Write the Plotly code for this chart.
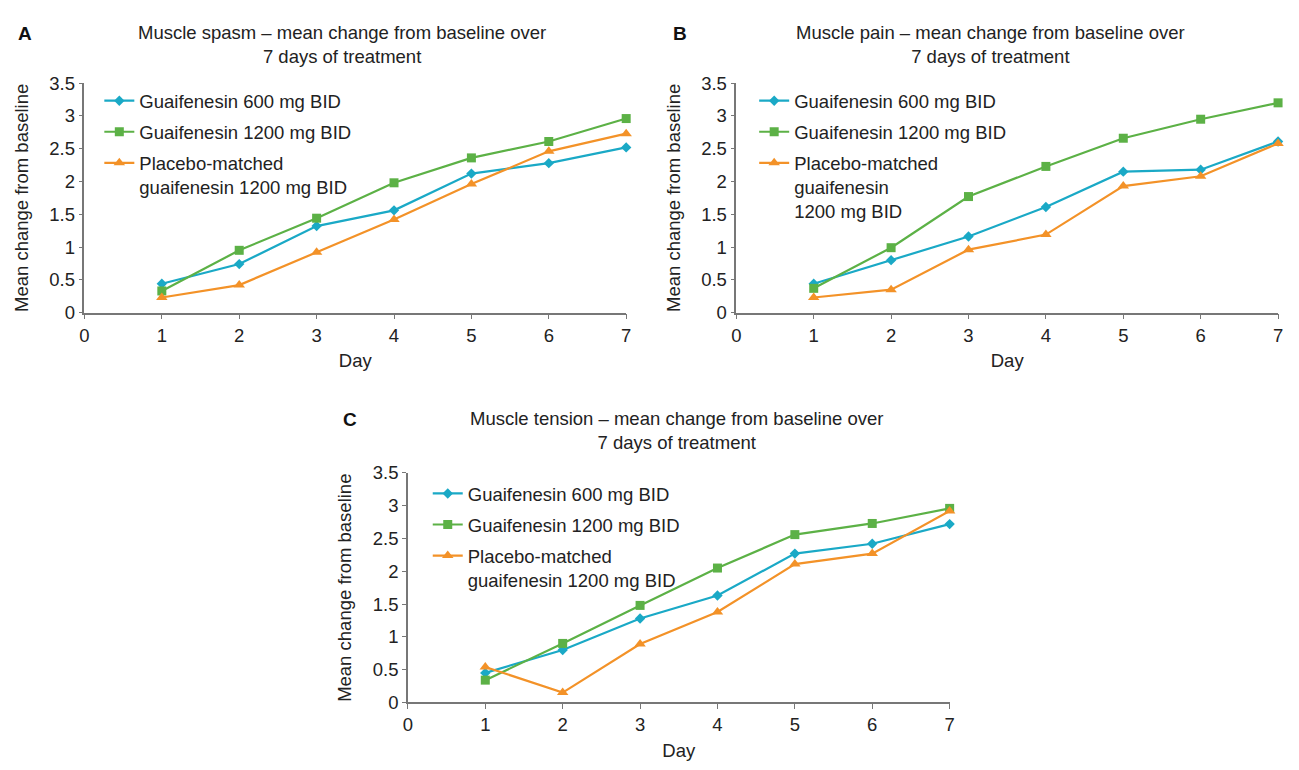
import plotly.graph_objects as go

days = [1, 2, 3, 4, 5, 6, 7]
series_names = ["Guaifenesin 600 mg BID", "Guaifenesin 1200 mg BID",
                "Placebo-matched<br>guaifenesin 1200 mg BID"]
series_names_b = ["Guaifenesin 600 mg BID", "Guaifenesin 1200 mg BID",
                  "Placebo-matched<br>guaifenesin<br>1200 mg BID"]

# Panel A: Muscle spasm
spasm_600 = [0.44, 0.74, 1.32, 1.56, 2.12, 2.28, 2.52]
spasm_1200 = [0.33, 0.95, 1.44, 1.98, 2.36, 2.61, 2.96]
spasm_placebo = [0.23, 0.42, 0.92, 1.42, 1.96, 2.46, 2.73]

# Panel B: Muscle pain
pain_600 = [0.44, 0.80, 1.16, 1.61, 2.15, 2.18, 2.61]
pain_1200 = [0.37, 0.99, 1.77, 2.23, 2.66, 2.95, 3.20]
pain_placebo = [0.23, 0.35, 0.96, 1.19, 1.93, 2.08, 2.58]

# Panel C: Muscle tension
tension_600 = [0.45, 0.80, 1.28, 1.63, 2.27, 2.42, 2.72]
tension_1200 = [0.34, 0.90, 1.48, 2.05, 2.56, 2.73, 2.96]
tension_placebo = [0.54, 0.15, 0.89, 1.38, 2.11, 2.27, 2.92]

titles = ["Muscle spasm \u2013 mean change from baseline over<br>7 days of treatment",
          "Muscle pain \u2013 mean change from baseline over<br>7 days of treatment",
          "Muscle tension \u2013 mean change from baseline over<br>7 days of treatment"]
letters = ["A", "B", "C"]

colors = ["#1AA9C6", "#5CB146", "#F39228"]
symbols = ["diamond", "square", "triangle-up"]
msizes = [8, 9, 10]

# the page body keeps its default 8px margin, so the figure is 16px smaller
OFF = 8
W, H = 1299 - 2 * OFF, 770 - 2 * OFF
FONT = "Liberation Sans, Arial, sans-serif"
FS = 18.5

def px(x):
    return (x - OFF) / W

def py(y):
    return 1 - (y - OFF) / H

# panel pixel boxes (page coordinates): (x0, x1, ytop, ybottom)
boxes = [(80, 626, 74, 310), (737, 1283, 74, 310), (406, 952, 475, 711)]
title_pos = [(340, 34), (993, 34), (677, 431)]
letter_pos = [(20, 23), (680, 23), (348, 420)]
legend_pos = [(95, 73), (755, 73), (426, 477)]

panel_data = [
    (spasm_600, spasm_1200, spasm_placebo, series_names),
    (pain_600, pain_1200, pain_placebo, series_names_b),
    (tension_600, tension_1200, tension_placebo, series_names),
]

fig = go.Figure()
layout = dict(
    width=W, height=H,
    margin=dict(l=0, r=0, t=0, b=0),
    paper_bgcolor="white", plot_bgcolor="white",
    font=dict(family=FONT, size=FS, color="#222222"),
    showlegend=True,
)
annotations = []

for i, (b, (s1, s2, s3, names)) in enumerate(zip(boxes, panel_data)):
    sfx = "" if i == 0 else str(i + 1)
    leg = "legend" if i == 0 else f"legend{i + 1}"
    for j, vals in enumerate([s1, s2, s3]):
        fig.add_trace(go.Scatter(
            x=days, y=vals, mode="lines+markers", name=names[j],
            line=dict(color=colors[j], width=2.2),
            marker=dict(symbol=symbols[j], size=msizes[j], color=colors[j]),
            xaxis="x" + sfx, yaxis="y" + sfx, legend=leg,
            legendgroup=f"g{i}{j}", cliponaxis=False,
        ))
    x0, x1, yt, yb = b
    layout["xaxis" + sfx] = dict(
        domain=[px(x0), px(x1)], range=[0, 7], anchor="y" + sfx,
        tickvals=[0, 1, 2, 3, 4, 5, 6, 7], showgrid=False, zeroline=False,
        showline=True, linecolor="#777777", linewidth=1.5,
        ticks="outside", ticklen=5, tickcolor="#777777",
        tickfont=dict(size=FS, color="#222222"),
        title=dict(text="Day", font=dict(size=FS), standoff=10),
    )
    layout["yaxis" + sfx] = dict(
        domain=[py(yb), py(yt)], range=[0, 3.5], anchor="x" + sfx,
        tickvals=[0, 0.5, 1, 1.5, 2, 2.5, 3, 3.5],
        ticktext=["0", "0.5", "1", "1.5", "2", "2.5", "3", "3.5"],
        showgrid=False, zeroline=False,
        showline=True, linecolor="#777777", linewidth=1.5,
        ticks="outside", ticklen=4, tickcolor="#777777",
        tickfont=dict(size=FS, color="#222222"),
        title=dict(text="Mean change from baseline", font=dict(size=FS), standoff=16),
    )
    lx, ly = legend_pos[i]
    layout[leg] = dict(
        x=px(lx), y=py(ly), xanchor="left", yanchor="top", valign="top",
        bgcolor="rgba(0,0,0,0)", font=dict(size=FS, color="#222222"),
        itemwidth=30, tracegroupgap=4, traceorder="grouped",
    )
    tx, ty = title_pos[i]
    annotations.append(dict(
        text=titles[i], x=px(tx), y=py(ty), xref="paper", yref="paper",
        showarrow=False, xanchor="center", yanchor="middle",
        font=dict(size=FS, color="#222222"),
    ))
    lx2, ly2 = letter_pos[i]
    annotations.append(dict(
        text=f"<b>{letters[i]}</b>", x=px(lx2), y=py(ly2), xref="paper", yref="paper",
        showarrow=False, xanchor="center", yanchor="middle",
        font=dict(size=19, color="#111111"),
    ))

layout["annotations"] = annotations
fig.update_layout(**layout)
fig.write_html("out.html", config={"displayModeBar": False})
